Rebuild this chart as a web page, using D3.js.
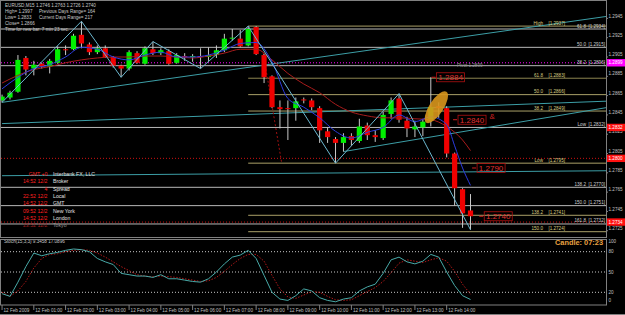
<!DOCTYPE html>
<html>
<head>
<meta charset="utf-8">
<script src="https://cdn.jsdelivr.net/npm/d3@7"></script>
<style>
  body { margin: 0; background: #000; }
  svg { display: block; }
  text { font-family: "Liberation Sans", Arial, sans-serif; }
</style>
</head>
<body>
<svg id="chart" width="625" height="315"></svg>
<script>
// EURUSD M15, 12 Feb 2009, 00:00 .. 14:45
var hourLabels = ["12 Feb 2009", "12 Feb 01:00", "12 Feb 02:00", "12 Feb 03:00", "12 Feb 04:00",
  "12 Feb 05:00", "12 Feb 06:00", "12 Feb 07:00", "12 Feb 08:00", "12 Feb 09:00", "12 Feb 10:00",
  "12 Feb 11:00", "12 Feb 12:00", "12 Feb 13:00", "12 Feb 14:00"];

var opens = [1.2860, 1.2863, 1.2869, 1.2904, 1.2893, 1.2898, 1.2895, 1.2899, 1.2913, 1.2913,
  1.2928, 1.2918, 1.2910, 1.2914, 1.2905, 1.2896, 1.2893, 1.2909, 1.2898, 1.2913,
  1.2909, 1.2911, 1.2899, 1.2906, 1.2905, 1.2906, 1.2905, 1.2907, 1.2912, 1.2924,
  1.2924, 1.2917, 1.2936, 1.2907, 1.2885, 1.2853, 1.2852, 1.2852, 1.2861, 1.2860,
  1.2852, 1.2828, 1.2820, 1.2816, 1.2823, 1.2818, 1.2834, 1.2824, 1.2821, 1.2846,
  1.2862, 1.2839, 1.2830, 1.2832, 1.2839, 1.2854, 1.2852, 1.2805, 1.2768, 1.2746];
var highs = [1.2866, 1.2870, 1.2907, 1.2906, 1.2901, 1.2899, 1.2903, 1.2916, 1.2917, 1.2929,
  1.2942, 1.2920, 1.2917, 1.2917, 1.2906, 1.2897, 1.2912, 1.2911, 1.2916, 1.2921,
  1.2914, 1.2913, 1.2909, 1.2909, 1.2908, 1.2914, 1.2915, 1.2917, 1.2929, 1.2934,
  1.2933, 1.2937, 1.2937, 1.2908, 1.2886, 1.2860, 1.2860, 1.2863, 1.2863, 1.2862,
  1.2854, 1.2832, 1.2822, 1.2826, 1.2826, 1.2841, 1.2837, 1.2829, 1.2848, 1.2863,
  1.2867, 1.2843, 1.2839, 1.2841, 1.2884, 1.2858, 1.2854, 1.2806, 1.2769, 1.2763];
var lows = [1.2858, 1.2861, 1.2868, 1.2886, 1.2886, 1.2893, 1.2888, 1.2898, 1.2907, 1.2912,
  1.2914, 1.2907, 1.2908, 1.2904, 1.2894, 1.2884, 1.2891, 1.2898, 1.2897, 1.2907,
  1.2907, 1.2897, 1.2898, 1.2901, 1.2900, 1.2893, 1.2901, 1.2904, 1.2910, 1.2922,
  1.2915, 1.2916, 1.2907, 1.2878, 1.2852, 1.2831, 1.2819, 1.2839, 1.2857, 1.2850,
  1.2816, 1.2816, 1.2795, 1.2807, 1.2813, 1.2816, 1.2819, 1.2817, 1.2819, 1.2841,
  1.2837, 1.2822, 1.2822, 1.2823, 1.2833, 1.2842, 1.2801, 1.2751, 1.2728, 1.2726];
var closes = [1.2864, 1.2868, 1.2902, 1.2892, 1.2897, 1.2895, 1.2901, 1.2913, 1.2912, 1.2927,
  1.2919, 1.2910, 1.2914, 1.2905, 1.2896, 1.2893, 1.2910, 1.2899, 1.2914, 1.2909,
  1.2912, 1.2898, 1.2907, 1.2905, 1.2906, 1.2905, 1.2907, 1.2912, 1.2924, 1.2925,
  1.2916, 1.2934, 1.2908, 1.2884, 1.2853, 1.2851, 1.2851, 1.2859, 1.2860, 1.2853,
  1.2829, 1.2822, 1.2816, 1.2822, 1.2819, 1.2833, 1.2824, 1.2822, 1.2845, 1.2860,
  1.2840, 1.2831, 1.2833, 1.2838, 1.2853, 1.2852, 1.2805, 1.2769, 1.2743, 1.2740];

// moving averages: [bar, price]
var maFast = [[0, 1.2872], [2, 1.2884], [4, 1.2893], [6, 1.2897], [8, 1.2905], [10, 1.2915],
  [12, 1.2913], [14, 1.2905], [16, 1.2902], [18, 1.2907], [20, 1.2910], [22, 1.2905],
  [24, 1.2905], [26, 1.2907], [28, 1.2912], [30, 1.2919], [32, 1.2920], [34, 1.2900],
  [36, 1.2862], [38, 1.2853], [40, 1.2842], [42, 1.2828], [44, 1.2821], [46, 1.2827],
  [48, 1.2832], [50, 1.2845], [52, 1.2838], [54, 1.2843], [56, 1.2835], [57, 1.2813],
  [58, 1.2790], [59, 1.2772]];
var maSlow = [[0, 1.2878], [2, 1.2886], [4, 1.2892], [6, 1.2895], [8, 1.2899], [10, 1.2902],
  [12, 1.2904], [14, 1.2905], [16, 1.2905], [18, 1.2906], [20, 1.2906], [22, 1.2905],
  [24, 1.2904], [26, 1.2906], [28, 1.2909], [30, 1.2913], [32, 1.2913], [34, 1.2902],
  [36, 1.2888], [38, 1.2877], [40, 1.2868], [42, 1.2856], [44, 1.2848], [46, 1.2844],
  [48, 1.2842], [50, 1.2842], [52, 1.2841], [54, 1.2840], [56, 1.2833], [58, 1.2819],
  [59, 1.2808]];

// zigzag pivots (bar index), alternating low / high
var zigzagBars = [0, 10, 15, 19, 25, 31, 42, 50, 59];

// trend lines, two anchor points each [bar, price]
var trendLines = [
  [[0, 1.2858], [59, 1.2927]],
  [[0, 1.2836], [59, 1.2854]],
  [[43, 1.2807], [59, 1.2829]],
  [[0, 1.2782], [59, 1.2786]]
];
var fractalLine = [[32.9, 1.2909], [35.2, 1.2796]];

// previous day fibo (full width)
var fibDayLevels = ["61.8", "50.0", "38.2", "Low", "138.2", "150.0", "161.8"];
var fibDayPrices = [1.2934, 1.2915, 1.2896, 1.2832, 1.2770, 1.2751, 1.2732];
// swing fibo, starts at the swing high bar
var fibSwingLevels = ["High", "61.8", "50.0", "38.2", "Low", "138.2", "150.0"];
var fibSwingPrices = [1.2937, 1.2883, 1.2866, 1.2849, 1.2795, 1.2741, 1.2724];
var fibSwingStart = 31;

var pivotPrice = 1.2899;
var redLevels = [1.2800, 1.2734];
var axisBoxes = [1.2899, 1.2832, 1.2800, 1.2734];

var priceTicks = [1.2945, 1.2925, 1.2905, 1.2885, 1.2865, 1.2845, 1.2825, 1.2805, 1.2785, 1.2765, 1.2745, 1.2725];

// price tags drawn on the chart
var tagPrices = [1.2884, 1.2840, 1.2790, 1.2740];
var tagBars = [54.1, 56.8, 59.2, 60.1];

var stochMain = [18, 14, 35, 58, 78, 74, 77, 79, 82, 84, 83, 80, 70, 65, 61, 48, 46, 44, 44, 42,
  46, 40, 40, 38, 36, 35, 40, 50, 62, 72, 75, 82, 70, 45, 20, 10, 8, 15, 25, 22,
  12, 8, 6, 10, 12, 22, 28, 32, 48, 68, 72, 65, 62, 66, 76, 72, 50, 30, 15, 9.3458];
var stochSignal = [20, 14, 22, 36, 56, 70, 76, 77, 80, 82, 83, 82, 78, 72, 65, 58, 52, 46, 44, 43,
  44, 43, 42, 40, 38, 36, 37, 42, 51, 61, 70, 76, 76, 66, 45, 25, 13, 11, 16, 21,
  20, 14, 9, 8, 9, 15, 21, 27, 36, 49, 63, 68, 66, 64, 68, 71, 66, 51, 32, 17.0896];
var stochLevels = [80, 50, 20];
var stochTicks = [100, 80, 50, 20, 0];

var infoTimes = [["GMT +0", "Interbank FX, LLC"], ["14:52  12/2", "Broker"], ["4", "Spread"],
  ["22:52  12/2", "Local"], ["14:52  12/2", "GMT"], ["09:52  12/2", "New York"],
  ["14:52  12/2", "London"], ["23:52  12/2", "Tokyo"]];

var headerLines = ["EURUSD,M15  1.2746 1.2763 1.2726 1.2740", "High= 1.2997", "Low= 1.2833",
  "Close= 1.2866", "Time for new bar: 7 min 23 sec."];
var headerRight = ["", "Previous Days Range= 164", "Current Days Range= 217", "", ""];

// ---------------------------------------------------------------
var svg = d3.select("#chart");
var plotR = 606, mainB = 237, stT = 239.5, stB = 305;
var grey = "#c0c0c0", frame = "#808080";

svg.append("rect").attr("width", 625).attr("height", 315).attr("fill", "#000");

var x = d3.scaleLinear().domain([0, 59]).range([2.06, 470.5]);
var y = d3.scaleLinear().domain([1.2770, 1.2934]).range([187.3, 29]);
var ys = d3.scaleLinear().domain([20, 80]).range([292.3, 251.7]);
var rightBar = x.invert(plotR);

var defs = svg.append("defs");
defs.append("clipPath").attr("id", "clipMain").append("rect")
  .attr("x", 1).attr("y", 1).attr("width", plotR - 1).attr("height", mainB - 1);
defs.append("clipPath").attr("id", "clipStoch").append("rect")
  .attr("x", 1).attr("y", stT).attr("width", plotR - 1).attr("height", stB - stT);

var main = svg.append("g").attr("clip-path", "url(#clipMain)");

function extendRight(a, b) {
  var k = (b[1] - a[1]) / (b[0] - a[0]);
  return [a, [rightBar, a[1] + k * (rightBar - a[0])]];
}
var line = d3.line().x(function(d) { return x(d[0]); }).y(function(d) { return y(d[1]); });

// horizontal levels
main.selectAll("line.fibDay").data(fibDayPrices).join("line")
  .attr("x1", 1).attr("x2", plotR)
  .attr("y1", function(d) { return y(d); }).attr("y2", function(d) { return y(d); })
  .attr("stroke", "#b8b8b8").attr("stroke-width", 1);

main.selectAll("line.fibSwing").data(fibSwingPrices).join("line")
  .attr("x1", x(fibSwingStart)).attr("x2", plotR)
  .attr("y1", function(d) { return y(d); }).attr("y2", function(d) { return y(d); })
  .attr("stroke", function(d, i) { return i === 1 ? "#8c8450" : "#aaa068"; }).attr("stroke-width", 1);

main.append("line").attr("x1", 1).attr("x2", plotR)
  .attr("y1", y(pivotPrice)).attr("y2", y(pivotPrice))
  .attr("stroke", "#ff00ff").attr("stroke-dasharray", "1,2");

main.selectAll("line.redLevel").data(redLevels).join("line")
  .attr("x1", 1).attr("x2", plotR)
  .attr("y1", function(d) { return y(d); }).attr("y2", function(d) { return y(d); })
  .attr("stroke", "#d01010").attr("stroke-dasharray", "1,2");

// trend lines
main.selectAll("path.trend").data(trendLines).join("path")
  .attr("d", function(d) { return line(extendRight(d[0], d[1])); })
  .attr("fill", "none").attr("stroke", "#3c9ea6").attr("stroke-width", 1);

main.append("path").attr("d", line(fractalLine))
  .attr("fill", "none").attr("stroke", "#a01010").attr("stroke-dasharray", "2,2");

// candles
var bars = d3.range(opens.length).map(function(i) {
  return { i: i, o: opens[i], h: highs[i], l: lows[i], c: closes[i] };
});
main.selectAll("line.wick").data(bars).join("line")
  .attr("x1", function(d) { return x(d.i); }).attr("x2", function(d) { return x(d.i); })
  .attr("y1", function(d) { return y(d.h); }).attr("y2", function(d) { return y(d.l); })
  .attr("stroke", "#c8c8c8").attr("stroke-width", 1);
main.selectAll("rect.body").data(bars).join("rect")
  .attr("x", function(d) { return x(d.i) - 2.6; }).attr("width", 5.2)
  .attr("y", function(d) { return y(Math.max(d.o, d.c)); })
  .attr("height", function(d) { return Math.max(1, Math.abs(y(d.o) - y(d.c))); })
  .attr("fill", function(d) { return d.c >= d.o ? "#00f000" : "#f00000"; });

// moving averages
main.append("path").attr("d", line.curve(d3.curveMonotoneX)(maSlow))
  .attr("fill", "none").attr("stroke", "#a81c1c").attr("stroke-width", 1);
main.append("path").attr("d", line(maFast))
  .attr("fill", "none").attr("stroke", "#2c3ce0").attr("stroke-width", 1);
line.curve(d3.curveLinear);

// zigzag
var zz = zigzagBars.map(function(b, k) { return [b, k % 2 === 0 ? lows[b] : highs[b]]; });
main.append("path").attr("d", line(zz))
  .attr("fill", "none").attr("stroke", "#6cb8d0").attr("stroke-width", 1);

// highlighted ellipse
main.append("ellipse")
  .attr("transform", "translate(" + x(54.7) + "," + y(1.2853) + ") rotate(33)")
  .attr("rx", 7).attr("ry", 18.5)
  .attr("fill", "#d8961c").attr("fill-opacity", 0.9);

// fib labels
var fibFont = 4.6;
main.selectAll("text.fdl").data(fibDayPrices).join("text")
  .attr("x", 586).attr("y", function(d) { return y(d) - 1.5; })
  .attr("text-anchor", "end").attr("font-size", fibFont).attr("fill", "#d0d0d0")
  .text(function(d, i) { return fibDayLevels[i]; });
main.selectAll("text.fdp").data(fibDayPrices).join("text")
  .attr("x", 605).attr("y", function(d) { return y(d) - 1.5; })
  .attr("text-anchor", "end").attr("font-size", fibFont).attr("fill", "#d0d0d0")
  .text(function(d) { return "[" + d.toFixed(4) + "]"; });
main.selectAll("text.fsl").data(fibSwingPrices).join("text")
  .attr("x", 543).attr("y", function(d) { return y(d) - 1.5; })
  .attr("text-anchor", "end").attr("font-size", fibFont).attr("fill", "#d8cc80")
  .text(function(d, i) { return fibSwingLevels[i]; });
main.selectAll("text.fsp").data(fibSwingPrices).join("text")
  .attr("x", 565).attr("y", function(d) { return y(d) - 1.5; })
  .attr("text-anchor", "end").attr("font-size", fibFont).attr("fill", "#d8cc80")
  .text(function(d) { return "[" + d.toFixed(4) + "]"; });

main.append("text").attr("x", x(57.3)).attr("y", y(pivotPrice) + 3.8)
  .attr("font-size", fibFont).attr("fill", "#909090").text("Pivot   1.2899");

// price tags
var tags = main.selectAll("g.tag").data(tagPrices).join("g")
  .attr("transform", function(d, i) { return "translate(" + x(tagBars[i]) + "," + y(d) + ")"; });
tags.append("line").attr("x1", 0).attr("x2", 4).attr("stroke", "#d02020");
tags.append("rect").attr("x", 5).attr("y", -4.5).attr("width", 28).attr("height", 9)
  .attr("fill", "none").attr("stroke", "#b01010").attr("stroke-width", 0.8);
tags.append("text").attr("x", 19).attr("y", 3).attr("text-anchor", "middle")
  .attr("font-size", 8).attr("fill", "#e03030").text(function(d) { return d.toFixed(4); });
main.append("text").attr("x", x(61.4)).attr("y", y(1.2841))
  .attr("font-size", 8).attr("fill", "#d02020").text("&");

// header info
var hdr = svg.append("g").attr("font-size", 4.6).attr("fill", "#c8c8c8");
hdr.selectAll("text.h1").data(headerLines).join("text")
  .attr("x", 5).attr("y", function(d, i) { return 6.6 + i * 6.2; }).text(function(d) { return d; });
hdr.selectAll("text.h2").data(headerRight).join("text")
  .attr("x", 39).attr("y", function(d, i) { return 6.6 + i * 6.2; }).text(function(d) { return d; });

// time zone list
var info = svg.append("g").attr("font-size", 5.2);
info.selectAll("text.t").data(infoTimes).join("text")
  .attr("x", 47.5).attr("y", function(d, i) { return 175.8 + i * 7.35; })
  .attr("text-anchor", "end").attr("fill", function(d, i) { return i === 7 ? "#a02020" : "#ff2020"; })
  .text(function(d) { return d[0]; });
info.selectAll("text.l").data(infoTimes).join("text")
  .attr("x", 53).attr("y", function(d, i) { return 175.8 + i * 7.35; })
  .attr("fill", function(d, i) { return i === 7 ? "#909090" : "#e0e0e0"; })
  .text(function(d) { return d[1]; });

// stochastic
var st = svg.append("g").attr("clip-path", "url(#clipStoch)");
st.selectAll("line.lvl").data(stochLevels).join("line")
  .attr("x1", 1).attr("x2", plotR)
  .attr("y1", function(d) { return ys(d); }).attr("y2", function(d) { return ys(d); })
  .attr("stroke", "#c8c8c8").attr("stroke-dasharray", "1,2");
var sline = d3.line().x(function(d, i) { return x(i); }).y(function(d) { return ys(d); });
st.append("path").attr("d", sline(stochSignal))
  .attr("fill", "none").attr("stroke", "#b01818").attr("stroke-dasharray", "1.5,1.5");
st.append("path").attr("d", sline(stochMain))
  .attr("fill", "none").attr("stroke", "#48aaa8").attr("stroke-width", 1);
svg.append("text").attr("x", 4).attr("y", 243).attr("font-size", 4.6).attr("fill", "#c8c8c8")
  .text("Stoch(15,3,3) " + stochMain[stochMain.length - 1].toFixed(4) + " " +
    stochSignal[stochSignal.length - 1].toFixed(4));
svg.append("text").attr("x", 603).attr("y", 245).attr("text-anchor", "end")
  .attr("font-size", 7.4).attr("font-weight", "bold").attr("fill", "#e8a040").text("Candle:  07:23");

// frames
svg.append("rect").attr("x", 0.5).attr("y", 0.5).attr("width", plotR).attr("height", mainB)
  .attr("fill", "none").attr("stroke", frame);
svg.append("rect").attr("x", 0.5).attr("y", stT).attr("width", plotR).attr("height", stB - stT)
  .attr("fill", "none").attr("stroke", frame);
svg.append("line").attr("x1", 0).attr("x2", 625).attr("y1", 314.5).attr("y2", 314.5).attr("stroke", frame);

// price axis
var ax = svg.append("g").attr("font-size", 4.6).attr("fill", grey);
ax.selectAll("text.pt").data(priceTicks).join("text")
  .attr("x", 608.5).attr("y", function(d) { return y(d) - 0.8; }).text(function(d) { return d.toFixed(4); });
ax.selectAll("line.pt").data(priceTicks).join("line")
  .attr("x1", plotR).attr("x2", plotR + 2)
  .attr("y1", function(d) { return y(d); }).attr("y2", function(d) { return y(d); }).attr("stroke", frame);
var boxes = ax.selectAll("g.box").data(axisBoxes).join("g")
  .attr("transform", function(d) { return "translate(" + (plotR + 1) + "," + y(d) + ")"; });
boxes.append("rect").attr("x", 0).attr("y", -3.7).attr("width", 19).attr("height", 7.4)
  .attr("fill", function(d, i) { return i === 0 ? "#ff00ff" : "#ff1010"; });
boxes.append("text").attr("x", 1.5).attr("y", 1.7).attr("fill", "#fff").text(function(d) { return d.toFixed(4); });

ax.selectAll("text.sl").data(stochTicks).join("text")
  .attr("x", 608.5).attr("y", function(d) { return Math.min(302, Math.max(242.5, ys(d) + 1.6)); })
  .text(function(d) { return d; });

// time axis
var tx = svg.append("g").attr("font-size", 4.6).attr("fill", grey);
tx.selectAll("line.tk").data(hourLabels).join("line")
  .attr("x1", function(d, i) { return x(i * 4); }).attr("x2", function(d, i) { return x(i * 4); })
  .attr("y1", stB).attr("y2", stB + 5).attr("stroke", frame);
tx.selectAll("text.tk").data(hourLabels).join("text")
  .attr("x", function(d, i) { return x(i * 4) + 1.5; }).attr("y", 311.5).text(function(d) { return d; });
</script>
</body>
</html>
